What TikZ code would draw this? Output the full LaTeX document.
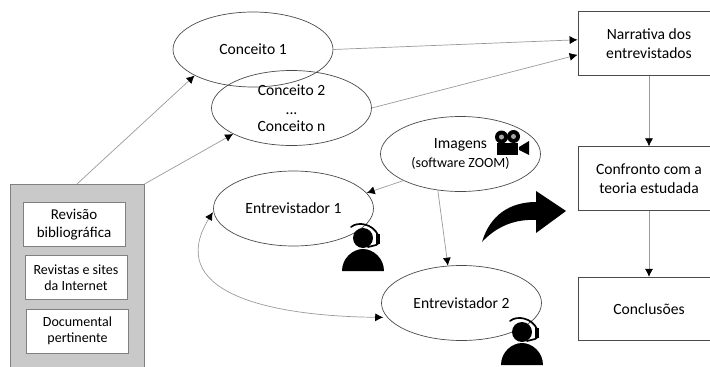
\documentclass[tikz,border=0pt]{standalone}
\usepackage{fontspec}
\setmainfont{Carlito}
\usetikzlibrary{shapes.geometric, arrows.meta}
\definecolor{boxgray}{HTML}{C9C9C9}
\definecolor{linegray}{HTML}{9A9A9A}
\definecolor{edgegray}{HTML}{4A4A4A}
\tikzset{
    headset/.pic={
        \fill[black] (-21,33) .. controls (-21,20) and (-10,11) .. (0,11) .. controls (10,11) and (21,20) .. (21,33) -- cycle;
        \fill[black] (0,0) circle (10);
        \draw[black, line width=1.7pt, line cap=round] (-12,-11) .. controls (-5,-17) and (10,-14) .. (15,-3) .. controls (17,2) and (16,6) .. (13,7) -- (5,9);
        \fill[black] (13,-4) rectangle (17,6);
    },
}
\begin{document}
\begin{tikzpicture}[
            x=1pt, y=-1pt,
            font=\fontsize{15.6}{18.5}\selectfont,
            >={Latex[black,length=8pt,width=8pt]},
            oval/.style={ellipse, draw=edgegray, line width=0.7pt, minimum width=160pt, minimum height=75pt, inner sep=0pt, align=center},
            fase/.style={rectangle, draw=edgegray, line width=0.8pt, fill=white, minimum width=142pt, minimum height=63.5pt, inner sep=0pt, align=center},
            fonte/.style={rectangle, draw=gray, line width=1pt, fill=white, minimum width=102pt, minimum height=44pt, inner sep=0pt, align=center, font=\fontsize{14}{16}\selectfont},
            seta/.style={->, draw=linegray, line width=0.7pt},
            ]
            \useasboundingbox (0,0) rectangle (710,367);

            \node (F) [rectangle, draw=gray, line width=1pt, fill=boxgray, minimum width=134pt, minimum height=195pt, anchor=north] at (77,184) {};
            \node (R1) [fonte, font=\fontsize{15}{18.3}\selectfont] at (74,224.5) {Revisão\\bibliográfica};
            \node (R2) [fonte] at (76,277.5) {Revistas e sites\\da Internet};
            \node (R3) [fonte] at (77.5,331) {Documental\\pertinente};

            \node (C1) [oval] at (253,49.5) {Conceito 1};
            \node (C2) [oval] at (291.5,108) {Conceito 2\\[1pt]...\\[-2pt]Conceito n};
            \node (I) [oval] at (460.5,154) {Imagens\\[1pt]{\fontsize{14}{16}\selectfont (software ZOOM)}};
            \node (E1) [oval] at (293.5,208.5) {Entrevistador 1};
            \node (E2) [oval] at (461.5,303) {Entrevistador 2};

            \node (N) [fase] at (649,43.5) {Narrativa dos\\entrevistados};
            \node (T) [fase] at (649,178.5) {Confronto com a\\teoria estudada};
            \node (K) [fase] at (649,309) {Conclusões};

            \draw[seta] (F.north) -- (C1.204);
            \draw[seta] (F.north east) -- (C2.204);
            \draw[seta] (C1.east) -- (N.177);
            \draw[seta] (C2.east) -- (N.189);
            \draw[seta] (I.205) -- (E1.12);
            \draw[seta] (I.238) -- (E2.110);
            \draw[seta] (N.south) -- (T.north);
            \draw[seta] (T.south) -- (K.north);
            \draw[seta, <->, shorten <=1pt, shorten >=4pt] (E1.182) .. controls (165,290) and (262,316) .. (E2.191);

            % seta grande
            \fill[black] (482,242) .. controls (490,215) and (510,202) .. (536,202) -- (536,191) -- (566,211) -- (536,233) -- (536,220) .. controls (515,219) and (497,226) .. cycle;

            % camera
            \fill[black] (501.5,137) circle (6.5);
            \fill[black] (513.5,136.5) circle (6.5);
            \fill[gray!70] (501.5,137) circle (2.5);
            \fill[gray!70] (513.5,136.5) circle (2.5);
            \fill[black] (497,143) rectangle (518,155);
            \fill[black] (519,147) -- (529,141) -- (529,155) -- (519,150) -- cycle;

            \pic at (363,238) {headset};
            \pic at (522,332) {headset};
        \end{tikzpicture}
\end{document}
